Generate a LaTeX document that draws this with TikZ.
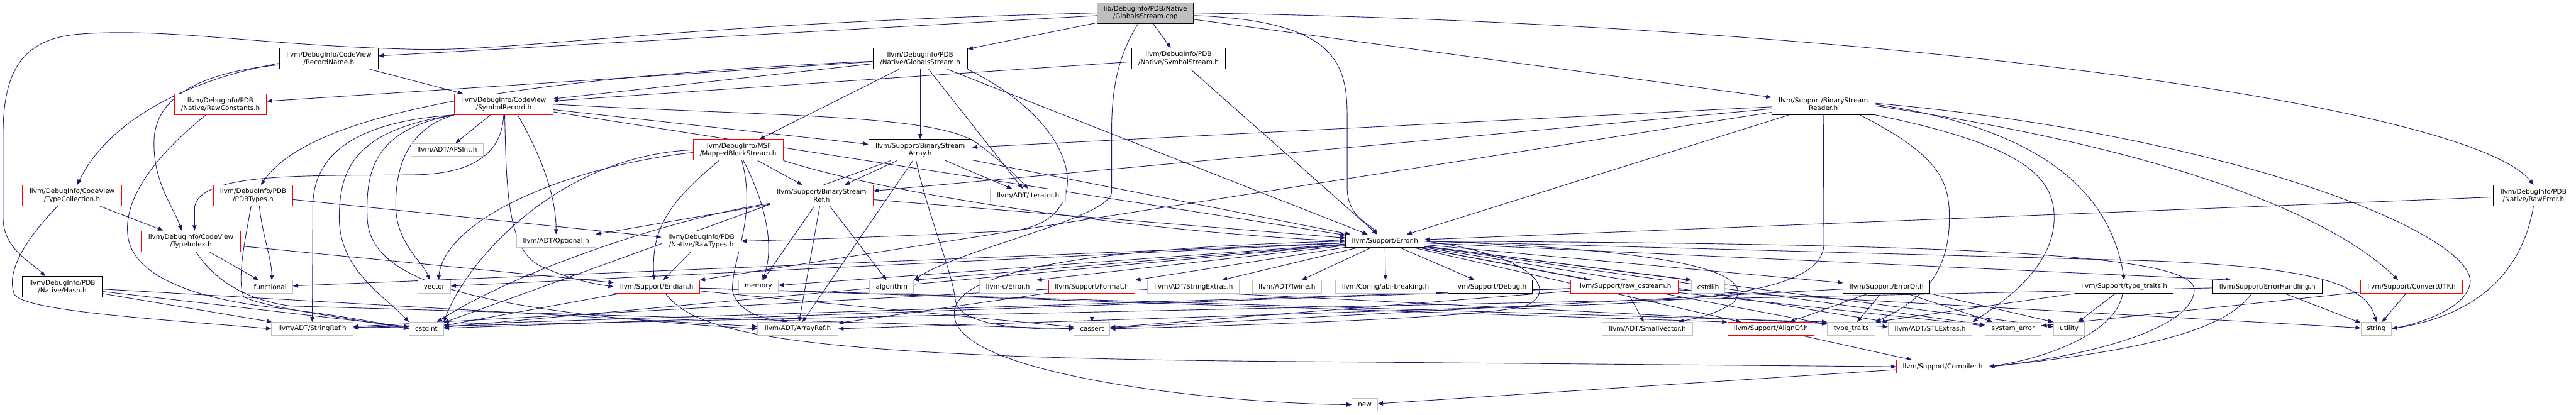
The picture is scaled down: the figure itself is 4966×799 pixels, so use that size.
\documentclass[tikz,border=0pt]{standalone}
\usepackage{fontspec}
\setmainfont{DejaVu Sans}
\usetikzlibrary{arrows.meta}
\definecolor{edgeblue}{HTML}{191970}
\definecolor{lgray}{HTML}{BFBFBF}
\definecolor{rootgray}{HTML}{BFBFBF}
\pgfdeclarelayer{bg}
\pgfsetlayers{bg,main}
\tikzset{
  nd/.style={rectangle, fill=white, inner sep=0pt, align=center,
    font=\fontsize{12.7}{15}\selectfont, line width=1.2pt, minimum height=25pt},
  two/.style={minimum height=40pt},
  bk/.style={nd, draw=black},
  rd/.style={nd, draw=red},
  gy/.style={nd, draw=lgray},
  rootnode/.style={nd, draw=black, fill=rootgray},
  dep/.style={draw=edgeblue, line width=1.1pt, -{Triangle[length=10pt,width=8pt]}},
}
\begin{document}
\begin{tikzpicture}[x=1pt,y=-1pt]
\useasboundingbox (0,0) rectangle (4966,799);
% rank 0
\node[rootnode,two,minimum width=186pt] (cpp) at (2208,25) {lib/DebugInfo/PDB/Native\\/GlobalsStream.cpp};
% rank 1
\node[bk,two,minimum width=190pt] (recname) at (634,113) {llvm/DebugInfo/CodeView\\/RecordName.h};
\node[bk,two,minimum width=182pt] (gsh) at (1774,113) {llvm/DebugInfo/PDB\\/Native/GlobalsStream.h};
\node[bk,two,minimum width=181pt] (ssh) at (2272,113) {llvm/DebugInfo/PDB\\/Native/SymbolStream.h};
% rank 2
\node[rd,two,minimum width=178pt] (rawconst) at (425,201) {llvm/DebugInfo/PDB\\/Native/RawConstants.h};
\node[rd,two,minimum width=190pt] (symrec) at (971,201) {llvm/DebugInfo/CodeView\\/SymbolRecord.h};
\node[bk,two,minimum width=199pt] (bsreader) at (3515,201) {llvm/Support/BinaryStream\\Reader.h};
% rank 3
\node[gy,minimum width=140pt] (apsint) at (862,289) {llvm/ADT/APSInt.h};
\node[rd,two,minimum width=173pt] (mbs) at (1423,289) {llvm/DebugInfo/MSF\\/MappedBlockStream.h};
\node[bk,two,minimum width=199pt] (bsarray) at (1774,289) {llvm/Support/BinaryStream\\Array.h};
% rank 4
\node[rd,two,minimum width=191pt] (typecoll) at (139,377) {llvm/DebugInfo/CodeView\\/TypeCollection.h};
\node[rd,two,minimum width=153pt] (pdbtypes) at (488,377) {llvm/DebugInfo/PDB\\/PDBTypes.h};
\node[rd,two,minimum width=198pt] (bsref) at (1584,377) {llvm/Support/BinaryStream\\Ref.h};
\node[gy,minimum width=145pt] (iterator) at (1982,377) {llvm/ADT/iterator.h};
\node[bk,two,minimum width=154pt] (rawerror) at (4884,377) {llvm/DebugInfo/PDB\\/Native/RawError.h};
% rank 5
\node[rd,two,minimum width=191pt] (typeindex) at (368,465) {llvm/DebugInfo/CodeView\\/TypeIndex.h};
\node[gy,minimum width=153pt] (optional) at (1072,465) {llvm/ADT/Optional.h};
\node[rd,two,minimum width=153pt] (rawtypes) at (1352,465) {llvm/DebugInfo/PDB\\/Native/RawTypes.h};
\node[bk,minimum width=151pt] (error) at (2670,465) {llvm/Support/Error.h};
% rank 6
\node[bk,two,minimum width=153pt] (hash) at (120,553) {llvm/DebugInfo/PDB\\/Native/Hash.h};
\node[gy,minimum width=86pt] (functional) at (521,553) {functional};
\node[gy,minimum width=63pt] (vector) at (837,553) {vector};
\node[rd,minimum width=165pt] (endian) at (1266,553) {llvm/Support/Endian.h};
\node[gy,minimum width=77pt] (memory) at (1462,553) {memory};
\node[gy,minimum width=85pt] (algorithm) at (1719,553) {algorithm};
\node[gy,minimum width=109pt] (cerror) at (1943,553) {llvm-c/Error.h};
\node[rd,minimum width=166pt] (format) at (2105,553) {llvm/Support/Format.h};
\node[gy,minimum width=177pt] (strext) at (2301,553) {llvm/ADT/StringExtras.h};
\node[gy,minimum width=134pt] (twine) at (2481,553) {llvm/ADT/Twine.h};
\node[gy,minimum width=194pt] (abi) at (2671,553) {llvm/Config/abi-breaking.h};
\node[bk,minimum width=162pt] (debug) at (2873,553) {llvm/Support/Debug.h};
\node[rd,minimum width=207pt] (rawos) at (3132,553) {llvm/Support/raw\_ostream.h};
\node[gy,minimum width=64pt] (cstdlib) at (3293,553) {cstdlib};
\node[bk,minimum width=167pt] (erroror) at (3637,553) {llvm/Support/ErrorOr.h};
\node[bk,minimum width=190pt] (typetraitsh) at (4095,553) {llvm/Support/type\_traits.h};
\node[bk,minimum width=211pt] (errhandling) at (4371,553) {llvm/Support/ErrorHandling.h};
\node[rd,minimum width=196pt] (convutf) at (4649,553) {llvm/Support/ConvertUTF.h};
% rank 7
\node[gy,minimum width=157pt] (stringref) at (602,634) {llvm/ADT/StringRef.h};
\node[gy,minimum width=66pt] (cstdint) at (822,634) {cstdint};
\node[gy,minimum width=155pt] (arrayref) at (1538,634) {llvm/ADT/ArrayRef.h};
\node[gy,minimum width=69pt] (cassert) at (2105,634) {cassert};
\node[gy,minimum width=174pt] (smallvec) at (3176,634) {llvm/ADT/SmallVector.h};
\node[rd,minimum width=167pt] (alignof) at (3414,634) {llvm/Support/AlignOf.h};
\node[gy,minimum width=92pt] (typetraits) at (3569,634) {type\_traits};
\node[gy,minimum width=162pt] (stlextras) at (3721,634) {llvm/ADT/STLExtras.h};
\node[gy,minimum width=108pt] (syserror) at (3881,634) {system\_error};
\node[gy,minimum width=60pt] (utility) at (3989,634) {utility};
\node[gy,minimum width=59pt] (string) at (4581,634) {string};
% rank 8, 9
\node[rd,minimum width=178pt] (compiler) at (3745,707) {llvm/Support/Compiler.h};
\node[gy,minimum width=49pt] (new) at (2631,780) {new};

\begin{pgfonlayer}{bg}
\fill[white] (0,0) rectangle (4966,799);
% cpp
\draw[dep] (cpp) -- (gsh);
\draw[dep] (cpp) -- (ssh);
\draw[dep] (cpp) -- (recname);
\draw[dep] (cpp) -- (bsreader);
\draw[dep] (cpp.west) .. controls (1300,45) and (1000,100) .. (800,95) .. controls (500,88) and (320,52) .. (150,66) .. controls (40,76) and (6,140) .. (6,260) -- (6,420) .. controls (6,480) and (60,505) .. ([xshift=-33pt]hash.north);
\draw[dep] (cpp.east) .. controls (3600,45) and (4760,200) .. (rawerror.north);
\draw[dep] ([yshift=-5pt]cpp.east) .. controls (2560,40) and (2597,110) .. (2597,220) -- (2597,360) .. controls (2597,420) and (2640,430) .. ([xshift=-15pt]error.north);
\draw[dep] ([xshift=-14pt]cpp.south) .. controls (2160,100) and (2143,160) .. (2143,250) -- (2143,370) .. controls (2143,420) and (1850,480) .. (algorithm.north east);
% recname
\draw[dep] (recname) -- (symrec);
\draw[dep] ([yshift=-9pt]recname.west) .. controls (330,160) and (200,250) .. ([xshift=10pt]typecoll.north);
\draw[dep] ([yshift=-12pt]recname.west) .. controls (380,140) and (300,190) .. (297,270) .. controls (294,350) and (335,400) .. ([xshift=-18pt]typeindex.north);
% gsh
\draw[dep] (gsh) -- (iterator);
\draw[dep] (gsh) -- (symrec);
\draw[dep] (gsh) -- (mbs);
\draw[dep] (gsh) -- (rawconst);
\draw[dep] (gsh) -- (bsarray);
\draw[dep] (gsh) -- (error);
\draw[dep] ([yshift=-5pt]gsh.west) .. controls (1000,150) and (600,215) .. ([xshift=15pt]pdbtypes.north);
\draw[dep] (gsh.south east) .. controls (2100,250) and (2110,430) .. (1950,445) .. controls (1750,455) and (1550,462) .. (rawtypes.east);
% ssh
\draw[dep] (ssh) -- (symrec);
\draw[dep] (ssh) -- (error);
% rawconst
\draw[dep] ([xshift=-28pt]rawconst.south) .. controls (300,300) and (240,380) .. (246,450) .. controls (252,540) and (400,578) .. (520,592) .. controls (640,606) and (720,620) .. (cstdint.west);
% symrec
\draw[dep] (symrec) -- (apsint);
\draw[dep] (symrec) -- (bsarray);
\draw[dep] (symrec) -- (error);
\draw[dep] (symrec.east) .. controls (1500,225) and (1800,220) .. (1882,275) .. controls (1930,310) and (1960,340) .. (iterator.north);
\draw[dep] (symrec.south) .. controls (968,290) and (920,335) .. (800,337) .. controls (600,340) and (385,330) .. (375,400) -- ([xshift=7pt]typeindex.north);
\draw[dep] (symrec.south west) .. controls (680,235) and (603,300) .. (603,400) -- (stringref.north);
\draw[dep] (symrec.south west) .. controls (690,250) and (654,320) .. (654,420) .. controls (654,520) and (740,570) .. (cstdint.north west);
\draw[dep] (symrec.south west) .. controls (720,250) and (705,330) .. (708,420) .. controls (712,540) and (900,600) .. (arrayref.west);
\draw[dep] (symrec.south west) .. controls (780,250) and (762,330) .. (763,400) .. controls (765,470) and (815,505) .. ([xshift=-8pt]vector.north);
\draw[dep] ([xshift=2pt]symrec.south) .. controls (976,350) and (976,480) .. (1040,512) .. controls (1100,540) and (1150,548) .. (endian.west);
\draw[dep] ([xshift=27pt]symrec.south) .. controls (1060,330) and (1072,400) .. (optional.north);
% bsreader
\draw[dep] (bsreader) -- (bsarray);
\draw[dep] (bsreader) -- (bsref);
\draw[dep] (bsreader) -- (endian);
\draw[dep] (bsreader) -- (error);
\draw[dep] (bsreader.south) -- (3516,470) .. controls (3516,560) and (3300,585) .. (2900,592) -- (arrayref.east);
\draw[dep] ([xshift=70pt]bsreader.south) .. controls (3740,300) and (3758,350) .. (3758,420) .. controls (3758,540) and (3690,585) .. (typetraits.north east);
\draw[dep] (bsreader.south east) .. controls (3900,280) and (3960,340) .. (3960,420) .. controls (3960,520) and (3850,590) .. (stlextras.north east);
\draw[dep] (bsreader.east) .. controls (3950,250) and (4070,380) .. (typetraitsh.north);
\draw[dep] ([yshift=2pt]bsreader.east) .. controls (4300,260) and (4770,450) .. (4762,545) .. controls (4756,590) and (4680,620) .. (string.east);
\draw[dep] ([yshift=-3pt]bsreader.east) .. controls (4200,290) and (4500,420) .. ([xshift=-26pt]convutf.north);
% mbs
\draw[dep] (mbs) -- (bsref);
\draw[dep] (mbs.south east) .. controls (1750,385) and (2250,450) .. (error.west);
\draw[dep] (mbs.west) .. controls (1080,300) and (900,500) .. (cstdint.north east);
\draw[dep] ([yshift=-5pt]mbs.west) .. controls (1100,320) and (860,420) .. ([xshift=8pt]vector.north);
\draw[dep] ([xshift=-37pt]mbs.south) .. controls (1290,390) and (1255,440) .. ([xshift=-5pt]endian.north);
\draw[dep] ([xshift=7pt]mbs.south) .. controls (1460,420) and (1410,500) .. (1412,560) .. controls (1420,600) and (1470,615) .. ([xshift=-20pt]arrayref.north);
\draw[dep] ([xshift=10pt]mbs.south) .. controls (1480,400) and (1492,480) .. ([xshift=8pt]memory.north);
% bsarray
\draw[dep] (bsarray) -- (bsref);
\draw[dep] (bsarray) -- (iterator);
\draw[dep] (bsarray) -- (arrayref);
\draw[dep] (bsarray) -- (error);
\draw[dep] (bsarray) -- (cstdint);
\draw[dep] ([xshift=-8pt]bsarray.south) .. controls (1790,420) and (1835,520) .. (1842,580) .. controls (1850,625) and (1960,636) .. (cassert.west);
% typecoll
\draw[dep] (typecoll) -- (typeindex);
\draw[dep] ([xshift=-28pt]typecoll.south) .. controls (60,450) and (8,520) .. (28,568) .. controls (50,600) and (300,615) .. (stringref.west);
% pdbtypes
\draw[dep] (pdbtypes) -- (rawtypes);
\draw[dep] ([xshift=-4pt]pdbtypes.south) .. controls (475,450) and (455,540) .. (470,572) .. controls (500,592) and (700,618) .. (cstdint.west);
\draw[dep] ([xshift=12pt]pdbtypes.south) .. controls (505,450) and (524,500) .. ([xshift=3pt]functional.north);
% bsref
\draw[dep] (bsref) -- (optional);
\draw[dep] (bsref) -- (memory);
\draw[dep] (bsref) -- (arrayref);
\draw[dep] (bsref) -- (algorithm);
\draw[dep] (bsref) -- (error);
\draw[dep] (bsref) .. controls (1300,420) and (1000,520) .. (cstdint);
% rawerror
\draw[dep] (rawerror) -- (error);
\draw[dep] (rawerror.south) .. controls (4870,480) and (4820,600) .. (string.east);
% typeindex
\draw[dep] (typeindex) -- (functional);
\draw[dep] (typeindex) -- (endian);
\draw[dep] ([xshift=10pt]typeindex.south) .. controls (400,520) and (450,575) .. (560,590) -- (cassert.west);
% rawtypes
\draw[dep] (rawtypes) -- (endian);
% error
\draw[dep] (error) -- (cerror.north east);
\draw[dep] (error) -- (algorithm.north east);
\draw[dep] (error) -- (memory);
\draw[dep] (error) -- (functional);
\draw[dep] (error) -- (vector);
\draw[dep] (error) -- (cstdint);
\draw[dep] (error) -- (format);
\draw[dep] (error) -- (strext);
\draw[dep] (error) -- (twine);
\draw[dep] (error) -- (abi);
\draw[dep] (error) -- (debug);
\draw[dep] (error) -- (rawos);
\draw[dep] (error) -- (cstdlib.north west);
\draw[dep] (error) -- (erroror);
\draw[dep] (error) -- ([xshift=-70pt]errhandling.north);
\draw[dep] (error) -- (alignof);
\draw[dep] (error) -- (typetraits);
\draw[dep] (error) -- (stlextras);
\draw[dep] (error) -- (syserror);
\draw[dep] (error) -- (utility);
\draw[dep] (error.east) -- (4150,503) .. controls (4430,515) and (4560,540) .. (string.north);
\draw[dep] (error.east) .. controls (2950,490) and (3010,560) .. (2940,590) .. controls (2850,615) and (2300,630) .. (cassert.east);
\draw[dep] (error.east) .. controls (3200,480) and (3400,520) .. (3340,585) .. controls (3300,610) and (3260,615) .. ([xshift=60pt]smallvec.north);
\draw[dep] (error.east) .. controls (3800,470) and (4235,490) .. (4230,560) .. controls (4225,640) and (4000,690) .. (compiler.east);
\draw[dep] (error.west) .. controls (2000,480) and (1830,540) .. (1840,610) .. controls (1850,730) and (2400,780) .. (new.west);
% hash
\draw[dep] (hash) -- (arrayref);
\draw[dep] (hash) -- (stringref);
\draw[dep] (hash) -- (cstdint);
% endian
\draw[dep] (endian) -- (cstdint);
\draw[dep] (endian) -- (cassert);
\draw[dep] (endian) -- (alignof.north west);
\draw[dep] (endian) -- (typetraits.north west);
\draw[dep] ([xshift=17pt]endian.south) .. controls (1340,640) and (1500,690) .. (2490,697) -- (compiler.west);
% format
\draw[dep] (format) -- (arrayref);
\draw[dep] (format) -- (stringref);
\draw[dep] (format) -- (cassert);
\draw[dep] (format) -- (stlextras);
% rawos
\draw[dep] (rawos) -- (smallvec);
\draw[dep] (rawos) -- (stringref);
\draw[dep] (rawos) -- (cassert);
\draw[dep] (rawos) -- (cstdint);
\draw[dep] (rawos) -- (string);
\draw[dep] (rawos) -- (syserror);
% erroror
\draw[dep] (erroror) -- (alignof);
\draw[dep] (erroror) -- (cassert);
\draw[dep] (erroror) -- (syserror);
\draw[dep] (erroror) -- (typetraits);
\draw[dep] (erroror.south east) -- (utility.north west);
% typetraitsh
\draw[dep] (typetraitsh.south west) -- (typetraits.north east);
\draw[dep] (typetraitsh) -- (utility);
\draw[dep] ([xshift=-3pt]typetraitsh.south) .. controls (4080,640) and (3950,690) .. (compiler.east);
% errhandling
\draw[dep] (errhandling) -- (stringref);
\draw[dep] (errhandling) -- (string);
\draw[dep] ([xshift=-30pt]errhandling.south) .. controls (4300,620) and (4200,670) .. (compiler.east);
% convutf
\draw[dep] (convutf) -- (string);
\draw[dep] (convutf) -- (syserror);
% alignof, compiler
\draw[dep] (alignof) -- (compiler);
\draw[dep] (compiler) -- (new);
\end{pgfonlayer}
\end{tikzpicture}
\end{document}
